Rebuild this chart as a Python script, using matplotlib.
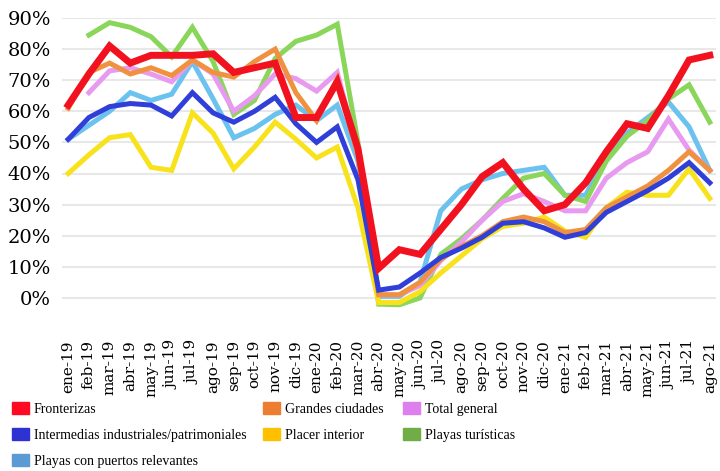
import numpy as np
import matplotlib.pyplot as plt
from matplotlib.patches import Patch
from matplotlib.ticker import FuncFormatter

plt.rcParams['font.family'] = ['DejaVu Serif']

meses = ['ene-19', 'feb-19', 'mar-19', 'abr-19', 'may-19', 'jun-19', 'jul-19', 'ago-19',
         'sep-19', 'oct-19', 'nov-19', 'dic-19', 'ene-20', 'feb-20', 'mar-20', 'abr-20',
         'may-20', 'jun-20', 'jul-20', 'ago-20', 'sep-20', 'oct-20', 'nov-20', 'dic-20',
         'ene-21', 'feb-21', 'mar-21', 'abr-21', 'may-21', 'jun-21', 'jul-21', 'ago-21']

# ocupacion (%) por tipo de destino
fronterizas = [62, 72, 81, 75.5, 78, 78, 78, 78.5, 72.5, 74, 75.5, 58, 58, 69.5, 48, 9.5,
               15.5, 14, 22, 30, 39, 43.5, 35, 28, 30, 37, 47, 56, 54.5, 65, 76.5, 78]
intermedias = [51, 58, 61.5, 62.5, 62, 58.5, 66, 59.5, 56.5, 60, 64.5, 56, 50, 55, 38, 2.5,
               3.5, 8, 13, 16, 19.5, 24, 24.5, 22.5, 19.5, 21, 27.5, 31, 34.5, 38.5, 43.5, 37]
puertos = [51, 55.5, 60, 66, 63.5, 65.5, 76, 64, 51.5, 54.5, 59, 62, 57, 62, 44, 0.5,
           0.5, 5, 28, 35, 38, 40, 41, 42, 33, 33, 46, 53, 58, 63, 55, 41]
grandes = [61, 72.5, 75.5, 72, 74, 71.5, 76.5, 72.5, 71, 76, 80, 66, 57, 70.5, 46, 1,
           1, 5, 12.5, 16.5, 20, 24.5, 26, 24.5, 21, 22, 29, 32.5, 36, 41, 47, 41]
placer = [40, 46, 51.5, 52.5, 42, 41, 59.5, 53, 41.5, 48.5, 56.5, 51, 45, 48.5, 29, -1.5,
          -1.5, 2, 8, 13.5, 19, 23, 24, 26, 21.5, 19.5, 29, 34, 33, 33, 41.5, 32]
turisticas = [np.nan, 84.5, 88.5, 87, 84, 77.5, 87, 76, 59, 63.5, 77, 82.5, 84.5, 88, 50, -2,
              -2.2, 0, 14, 19, 25, 32, 38.5, 40, 33, 31, 44, 52, 57, 64, 68.5, 56.5]
total = [np.nan, 66, 73, 74, 72, 69.5, 76.5, 72, 60, 65, 72, 70.5, 66.5, 72.5, 47, 1,
         1, 4, 12, 18, 25, 31, 33.5, 31, 28, 28, 38.5, 43.5, 47, 57.5, 47.5, 41]

x = np.arange(len(meses))

fig = plt.figure(figsize=(7.2, 4.71), dpi=100)
ax = fig.add_axes([62/720, 1-329/471, (716-62)/720, (329-18)/471])

# orden de dibujo: rojo encima
series = [
    (puertos, '#6cc2ee', 3.6),
    (turisticas, '#8ad65a', 3.6),
    (total, '#e89af0', 3.6),
    (placer, '#f7e21c', 3.6),
    (grandes, '#f0913f', 3.6),
    (intermedias, '#2f3fd8', 3.6),
    (fronterizas, '#f2121f', 5),
]
for i, (vals, col, lw) in enumerate(series):
    ax.plot(x, vals, color=col, lw=lw, zorder=3+i, solid_joinstyle='miter')

ax.set_xlim(-0.3, 31.3)
ax.set_ylim(-10, 90)
ax.set_yticks(np.arange(0, 91, 10))
ax.yaxis.set_major_formatter(FuncFormatter(lambda v, p: f'{v:.0f}%'))
ax.set_xticks(x)
ax.set_xticklabels(meses, rotation=90, fontsize=11)
ax.tick_params(axis='y', labelsize=14, length=0, pad=8)
ax.tick_params(axis='x', length=0, pad=8)
ax.grid(axis='y', color='#e8e8e8', lw=1.5)
ax.set_axisbelow(True)
for s in ax.spines.values():
    s.set_visible(False)

# leyenda en tres columnas
columnas = [
    (12, [('#ff0a22', 'Fronterizas'),
          ('#2e32d2', 'Intermedias industriales/patrimoniales'),
          ('#5b9bd5', 'Playas con puertos relevantes')]),
    (263, [('#ed7d31', 'Grandes ciudades'),
           ('#ffc000', 'Placer interior')]),
    (403, [('#de7fee', 'Total general'),
           ('#70ad47', 'Playas turísticas')]),
]
for xpos, items in columnas:
    handles = [Patch(color=c, label=t) for c, t in items]
    fig.legend(handles=handles, loc='upper left', bbox_to_anchor=(xpos/720, 1-402/471),
               frameon=False, prop={'family': 'Liberation Serif', 'size': 10},
               handlelength=1.25, handleheight=1.0, handletextpad=0.3,
               labelspacing=0.85, borderaxespad=0, borderpad=0)

fig.savefig('out.png', dpi=100)
